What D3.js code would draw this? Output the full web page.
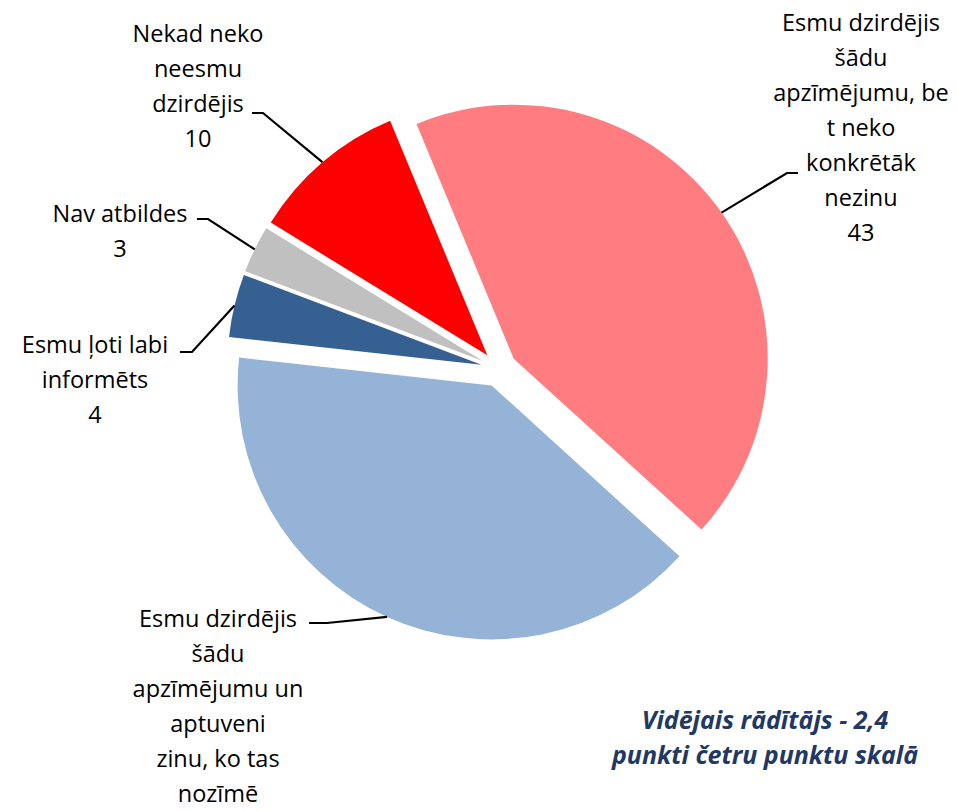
<!DOCTYPE html>
<html>
<head>
<meta charset="utf-8">
<script src="https://cdn.jsdelivr.net/npm/d3@7"></script>
<style>
  body { margin: 0; background: #fff; }
  text { font-family: "Open Sans", sans-serif; }
</style>
</head>
<body>
<div id="chart"></div>
<script>
// data
var categories = [
  "Esmu dzirdējis šādu apzīmējumu, bet neko konkrētāk nezinu",
  "Esmu dzirdējis šādu apzīmējumu un aptuveni zinu, ko tas nozīmē",
  "Esmu ļoti labi informēts",
  "Nav atbildes",
  "Nekad neko neesmu dzirdējis"
];
var values = [43, 40, 4, 3, 10];
var labelLines = [
  ["Esmu dzirdējis", "šādu", "apzīmējumu, be", "t neko", "konkrētāk", "nezinu"],
  ["Esmu dzirdējis", "šādu", "apzīmējumu un", "aptuveni", "zinu, ko tas", "nozīmē"],
  ["Esmu ļoti labi", "informēts"],
  ["Nav atbildes"],
  ["Nekad neko", "neesmu", "dzirdējis"]
];
// the value of the big blue slice falls below the picture in the original
var showValue = [true, false, true, true, true];
var colors = ["#FF7C80", "#95B3D7", "#376092", "#C0C0C0", "#FF0000"];
var noteLines = ["Vidējais rādītājs - 2,4", "punkti četru punktu skalā"];

// layout
var width = 957, height = 811;
var cx = 499, cy = 369, radius = 254, explode = 18;
var lineH = 35;
// label text centre x, first baseline y, and leader elbow [tick end near text, tick start]
var labelPos = [
  {x: 861, y: 31,  tick: [787, 798], ty: 173},
  {x: 218, y: 627, tick: [327, 309], ty: 623},
  {x: 95,  y: 353, tick: [192, 180], ty: 352},
  {x: 120, y: 222, tick: [208, 197], ty: 219},
  {x: 198, y: 42,  tick: [263, 252], ty: 113}
];

var svg = d3.select("#chart").append("svg")
  .attr("width", width)
  .attr("height", height);

var start = -22.5 * Math.PI / 180;
var pie = d3.pie().sort(null).startAngle(start).endAngle(start + 2 * Math.PI);
var arcs = pie(values);

var arc = d3.arc().innerRadius(0).outerRadius(radius);

function offset(d) {
  var a = (d.startAngle + d.endAngle) / 2;
  return [Math.sin(a) * explode, -Math.cos(a) * explode];
}

var slices = svg.append("g").attr("transform", "translate(" + cx + "," + cy + ")");

slices.selectAll("path")
  .data(arcs)
  .enter()
  .append("path")
  .attr("d", arc)
  .attr("fill", function(d, i) { return colors[i]; })
  .attr("transform", function(d) { var o = offset(d); return "translate(" + o[0] + "," + o[1] + ")"; });

// leader lines
svg.append("g").selectAll("polyline")
  .data(arcs)
  .enter()
  .append("polyline")
  .attr("points", function(d, i) {
    var a = (d.startAngle + d.endAngle) / 2, o = offset(d), p = labelPos[i];
    var ex = cx + o[0] + Math.sin(a) * radius, ey = cy + o[1] - Math.cos(a) * radius;
    return [[p.tick[1], p.ty], [p.tick[0], p.ty], [ex, ey]].join(" ");
  })
  .attr("fill", "none")
  .attr("stroke", "#000")
  .attr("stroke-width", 2.2);

// labels
var labels = svg.append("g").selectAll("text")
  .data(arcs)
  .enter()
  .append("text")
  .attr("text-anchor", "middle")
  .attr("font-size", "23.5px")
  .attr("fill", "#000");

labels.each(function(d, i) {
  var t = d3.select(this), p = labelPos[i];
  var lines = showValue[i] ? labelLines[i].concat([String(values[i])]) : labelLines[i];
  lines.forEach(function(line, j) {
    t.append("tspan")
      .attr("x", p.x)
      .attr("y", p.y + j * lineH)
      .text(line);
  });
});

// note
svg.append("text")
  .attr("text-anchor", "middle")
  .attr("font-size", "25px")
  .attr("font-weight", "bold")
  .attr("font-style", "italic")
  .attr("fill", "#1F3864")
  .selectAll("tspan")
  .data(noteLines)
  .enter()
  .append("tspan")
  .attr("x", 765)
  .attr("y", function(d, i) { return 729 + i * 35; })
  .text(function(d) { return d; });
</script>
</body>
</html>
